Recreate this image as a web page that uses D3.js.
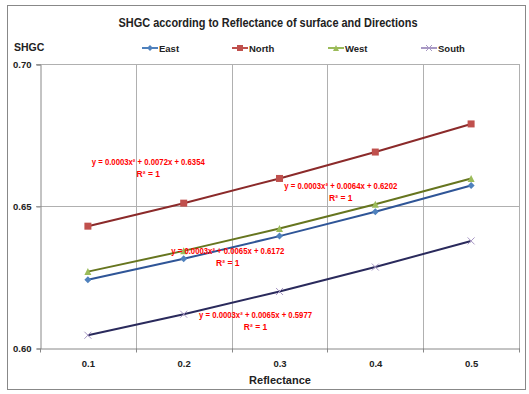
<!DOCTYPE html>
<html>
<head>
<meta charset="utf-8">
<script src="https://cdn.jsdelivr.net/npm/d3@7/dist/d3.min.js"></script>
<style>
  body { margin: 0; background: #fff; }
  text { font-family: "Liberation Sans Narrow", "Liberation Sans", Arial, sans-serif; font-weight: bold; }
</style>
</head>
<body>
<div id="chart"></div>
<script>
// data
var reflectance = ["0.1", "0.2", "0.3", "0.4", "0.5"];
var east  = [0.6240, 0.6314, 0.6394, 0.6480, 0.6572];
var north = [0.6429, 0.6510, 0.6597, 0.6690, 0.6789];
var west  = [0.6269, 0.6342, 0.6421, 0.6506, 0.6597];
var south = [0.6045, 0.6119, 0.6199, 0.6285, 0.6377];
var yTicks = [0.60, 0.65, 0.70];
var seriesNames = ["East", "North", "West", "South"];
var trendText = [
    "y = 0.0003x\u00b2 + 0.0065x + 0.6172",
    "y = 0.0003x\u00b2 + 0.0072x + 0.6354",
    "y = 0.0003x\u00b2 + 0.0064x + 0.6202",
    "y = 0.0003x\u00b2 + 0.0065x + 0.5977"
];

var W = 529, H = 394;
var svg = d3.select("#chart").append("svg")
    .attr("width", W)
    .attr("height", H);

svg.append("rect")
    .attr("x", 7.5).attr("y", 5.5)
    .attr("width", 518).attr("height", 384)
    .attr("fill", "#fff")
    .attr("stroke", "#888")
    .attr("stroke-width", 1);

var x = d3.scaleBand().domain(reflectance).range([40, 519]).padding(0);
var y = d3.scaleLinear().domain([0.60, 0.70]).range([348, 64]);
var cx = function(i) { return x(reflectance[i]) + x.bandwidth() / 2; };

var series = [
    {name: "East",  vals: east,  line: "#2f5597", mark: "#4f81bd", shape: "diamond"},
    {name: "North", vals: north, line: "#8b2a2a", mark: "#c0504d", shape: "square"},
    {name: "West",  vals: west,  line: "#66751f", mark: "#9bbb59", shape: "triangle"},
    {name: "South", vals: south, line: "#2a2a5c", mark: "#a898c4", shape: "cross"}
];

// grid
var grid = svg.append("g").attr("stroke", "#b0b0b0").attr("stroke-width", 1);
reflectance.forEach(function(c) {
    var gx = Math.round(x(c) + x.bandwidth()) + 0.5;
    grid.append("line").attr("x1", gx).attr("x2", gx).attr("y1", y(0.70)).attr("y2", y(0.60) + 4);
});
yTicks.slice(1).forEach(function(t) {
    var gy = Math.round(y(t)) + 0.5;
    grid.append("line").attr("x1", 36).attr("x2", 519).attr("y1", gy).attr("y2", gy);
});

// axes
var yAxis = svg.append("g").attr("transform", "translate(40.5,0.5)")
    .call(d3.axisLeft(y).tickValues(yTicks).tickFormat(d3.format(".2f")).tickSize(4).tickPadding(5));
var xAxis = svg.append("g").attr("transform", "translate(0.5,348.5)")
    .call(d3.axisBottom(x).tickSize(0).tickPadding(12));
[yAxis, xAxis].forEach(function(a) {
    a.select(".domain").attr("stroke", "#888");
    a.selectAll(".tick line").attr("stroke", "#888");
    a.selectAll("text").attr("font-size", 9.5).attr("fill", "#222")
        .style("font-family", "\"Liberation Sans Narrow\", \"Liberation Sans\", Arial, sans-serif")
        .style("font-weight", "bold");
});
xAxis.append("line").attr("x1", 40).attr("x2", 40).attr("y1", 0).attr("y2", 4).attr("stroke", "#888");
reflectance.forEach(function(c) {
    var gx = Math.round(x(c) + x.bandwidth());
    xAxis.append("line").attr("x1", gx).attr("x2", gx).attr("y1", 0).attr("y2", 4).attr("stroke", "#888");
});

function marker(g, shape, color, s) {
    if (shape === "diamond") {
        g.append("path").attr("d", "M0," + (-s) + "L" + s + ",0L0," + s + "L" + (-s) + ",0Z").attr("fill", color);
    } else if (shape === "square") {
        g.append("rect").attr("x", -s).attr("y", -s).attr("width", 2 * s).attr("height", 2 * s).attr("fill", color);
    } else if (shape === "triangle") {
        g.append("path").attr("d", "M0," + (-s) + "L" + s + "," + s + "L" + (-s) + "," + s + "Z").attr("fill", color);
    } else {
        g.append("path").attr("d", "M" + (-s) + "," + (-s) + "L" + s + "," + s + "M" + (-s) + "," + s + "L" + s + "," + (-s))
            .attr("stroke", color).attr("stroke-width", 1).attr("fill", "none");
    }
}

var line = d3.line().x(function(d, i) { return cx(i); }).y(function(d) { return y(d); });

series.forEach(function(s) {
    svg.append("path").datum(s.vals)
        .attr("d", line)
        .attr("fill", "none")
        .attr("stroke", s.line)
        .attr("stroke-width", 2);
    s.vals.forEach(function(v, i) {
        marker(svg.append("g").attr("transform", "translate(" + cx(i) + "," + y(v) + ")"), s.shape, s.mark, 3.5);
    });
});

// trendline equation labels (anchor: bands from left edge, value)
var trendPos = [[1.96, 0.6331], [1.13, 0.6644], [3.14, 0.6560], [2.25, 0.6106]];
trendText.forEach(function(t, i) {
    var px = x(reflectance[0]) + trendPos[i][0] * x.bandwidth();
    var py = y(trendPos[i][1]);
    svg.append("text").attr("x", px).attr("y", py)
        .attr("text-anchor", "middle").attr("font-size", 8.5).attr("fill", "#ff0000")
        .attr("textLength", 113).attr("lengthAdjust", "spacingAndGlyphs")
        .text(t);
    svg.append("text").attr("x", px).attr("y", py + 12)
        .attr("text-anchor", "middle").attr("font-size", 8.5).attr("fill", "#ff0000")
        .text("R\u00b2 = 1");
});

// title and labels
svg.append("text").attr("x", 268).attr("y", 27)
    .attr("text-anchor", "middle").attr("font-size", 12.5).attr("fill", "#222")
    .attr("textLength", 299).attr("lengthAdjust", "spacingAndGlyphs")
    .text("SHGC according to Reflectance of surface and Directions");
svg.append("text").attr("x", 14).attr("y", 51)
    .attr("font-size", 10.5).attr("fill", "#222").text("SHGC");
svg.append("text").attr("x", 280).attr("y", 384)
    .attr("text-anchor", "middle").attr("font-size", 11).attr("fill", "#222").text("Reflectance");

// legend
var legendX = [142, 232, 328, 421];
series.forEach(function(s, i) {
    var g = svg.append("g").attr("transform", "translate(" + legendX[i] + ",48)");
    g.append("line").attr("x1", 0).attr("x2", 16).attr("y1", 0).attr("y2", 0)
        .attr("stroke", s.mark).attr("stroke-width", 2);
    marker(g.append("g").attr("transform", "translate(8,0)"), s.shape, s.mark, 3);
    g.append("text").attr("x", 17).attr("y", 3.5).attr("font-size", 9.5).attr("fill", "#222").text(seriesNames[i]);
});
</script>
</body>
</html>
